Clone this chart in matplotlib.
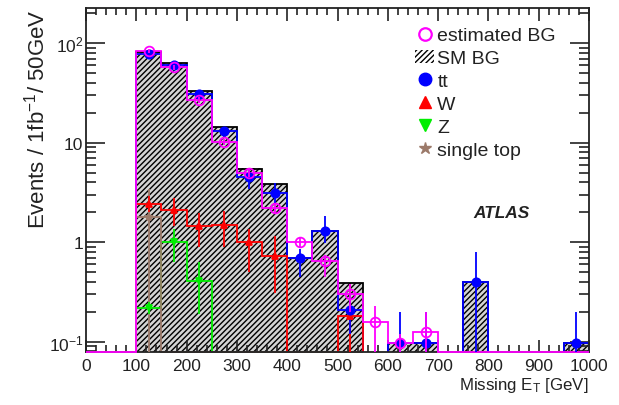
import numpy as np
import matplotlib
matplotlib.use("Agg")
import matplotlib.pyplot as plt
from matplotlib.lines import Line2D
from matplotlib.patches import Patch
from matplotlib.ticker import MultipleLocator, LogLocator, FixedLocator, FixedFormatter, NullFormatter

plt.rcParams['font.family'] = ['Liberation Sans', 'DejaVu Sans']
plt.rcParams['mathtext.default'] = 'regular'
plt.rcParams['hatch.linewidth'] = 1.0

# 50 GeV bins from 0 to 1000
edges = np.arange(0, 1050, 50)
centers = edges[:-1] + 25

# per-bin contents (20 bins)
tt = np.array([0, 0, 78, 60, 31, 13, 4.5, 3.1, 0.7, 1.3, 0.21, 0, 0.097, 0.097, 0, 0.40, 0, 0, 0, 0.097])
w = np.array([0, 0, 2.4, 2.1, 1.46, 1.5, 1.0, 0.73, 0, 0, 0.18, 0, 0, 0, 0, 0, 0, 0, 0, 0])
z = np.array([0, 0, 0.22, 1.0, 0.41, 0, 0, 0, 0, 0, 0, 0, 0, 0, 0, 0, 0, 0, 0, 0])
st = np.array([0, 0, 1.78, 0, 0, 0, 0, 0, 0, 0, 0, 0, 0, 0, 0, 0, 0, 0, 0, 0])
est = np.array([0, 0, 84, 57.5, 27, 10.2, 5.0, 2.2, 1.0, 0.64, 0.30, 0.156, 0.097, 0.124, 0, 0, 0, 0, 0, 0])
sm_bg = tt + w + z + st

# error bands (lower / upper bound) of the points
tt_lo = np.array([0, 0, 73, 56, 28.5, 11.5, 3.4, 2.4, 0.45, 0.97, 0.12, 0, 0, 0, 0, 0, 0, 0, 0, 0])
tt_hi = np.array([0, 0, 83, 64, 33.5, 14.5, 5.5, 3.9, 0.85, 1.83, 0.30, 0, 0.2, 0.2, 0, 0.8, 0, 0, 0, 0.2])
w_lo = np.array([0, 0, 2.0, 1.46, 0.9, 0.9, 0.5, 0.31, 0, 0, 0, 0, 0, 0, 0, 0, 0, 0, 0, 0])
w_hi = np.array([0, 0, 2.9, 2.8, 1.95, 2.05, 1.35, 1.16, 0, 0, 0.38, 0, 0, 0, 0, 0, 0, 0, 0, 0])
z_lo = np.array([0, 0, 0.19, 0.63, 0.19, 0, 0, 0, 0, 0, 0, 0, 0, 0, 0, 0, 0, 0, 0, 0])
z_hi = np.array([0, 0, 0.25, 1.35, 0.63, 0, 0, 0, 0, 0, 0, 0, 0, 0, 0, 0, 0, 0, 0, 0])
st_lo = np.array([0, 0, 0, 0, 0, 0, 0, 0, 0, 0, 0, 0, 0, 0, 0, 0, 0, 0, 0, 0])
st_hi = np.array([0, 0, 3.4, 0, 0, 0, 0, 0, 0, 0, 0, 0, 0, 0, 0, 0, 0, 0, 0, 0])
est_lo = np.array([0, 0, 80, 54, 25, 9.4, 4.5, 1.95, 0.9, 0.45, 0.2, 0, 0, 0, 0, 0, 0, 0, 0, 0])
est_hi = np.array([0, 0, 88, 61, 29, 11, 5.6, 2.5, 1.1, 0.75, 0.38, 0.23, 0.12, 0.2, 0, 0, 0, 0, 0, 0])

YMIN, YMAX = 0.0787, 226
TINY = 1e-4

magenta = '#ff00ff'
blue = '#0000ff'
red = '#ff0000'
green = '#00ee00'
brown = '#9c7a6a'
ink = '#222222'

fig = plt.figure(figsize=(6.19, 4.06), dpi=100)
ax = fig.add_axes([0.139, 0.1305, 0.8125, 0.8475])
ax.set_yscale('log')
ax.set_xlim(0, 1000)
ax.set_ylim(YMIN, YMAX)

# SM background, hatched
m = sm_bg > 0
ax.bar(centers[m], sm_bg[m], width=50, bottom=TINY, facecolor='#d4d4d4',
       edgecolor='black', hatch='//////', linewidth=0, zorder=1)
ax.stairs(np.where(sm_bg > 0, sm_bg, TINY), edges, baseline=TINY, color='black', lw=1.3, zorder=1.5)

# component histograms
ax.stairs(np.where(tt > 0, tt, TINY), edges, baseline=TINY, color=blue, lw=1.3, zorder=1.6)
ax.stairs(np.where(w[2:11] > 0, w[2:11], TINY), edges[2:12], baseline=TINY, color=red, lw=1.3, zorder=1.7)
ax.stairs(z[2:5], edges[2:6], baseline=TINY, color=green, lw=1.3, zorder=1.8)
ax.stairs(np.where(st[2:11] > 0, st[2:11], YMIN), edges[2:12], baseline=YMIN, color=brown,
          lw=1.3, zorder=1.9, clip_on=False)
ax.stairs(np.where(est > 0, est, YMIN), edges, baseline=YMIN, color=magenta, lw=1.3,
          zorder=3, clip_on=False)


def points(vals, lo, hi, color, marker, ms, face=None, zo=4):
    k = vals > 0
    y = vals[k]
    dn = y - np.maximum(lo[k], TINY)
    up = hi[k] - y
    ax.errorbar(centers[k], y, yerr=[dn, up], fmt=marker, color=color, ms=ms,
                mfc=face if face else color, mec=color, mew=1.3, elinewidth=1.3,
                capsize=0, zorder=zo)


points(st, st_lo, st_hi, brown, '*', 6)
points(z, z_lo, z_hi, green, 'v', 5)
points(w, w_lo, w_hi, red, '^', 5)
points(tt, tt_lo, tt_hi, blue, 'o', 6)
points(est, est_lo, est_hi, magenta, 'o', 7, face='none', zo=5)

# axes and ticks
ax.xaxis.set_major_locator(MultipleLocator(100))
ax.xaxis.set_minor_locator(MultipleLocator(20))
ax.yaxis.set_major_locator(FixedLocator([0.1, 1, 10, 100]))
ax.yaxis.set_major_formatter(FixedFormatter(['$10^{-1}$', '1', '10', '$10^{2}$']))
ax.yaxis.set_minor_locator(LogLocator(base=10, subs=np.arange(2, 10)))
ax.yaxis.set_minor_formatter(NullFormatter())
ax.tick_params(axis='both', which='both', direction='in', top=True, right=True,
               labelsize=12.5, colors=ink, width=1.2)
ax.tick_params(axis='x', which='major', length=9, pad=4)
ax.tick_params(axis='x', which='minor', length=5)
ax.tick_params(axis='y', which='major', length=14, pad=2)
ax.tick_params(axis='y', which='minor', length=7)
for s in ax.spines.values():
    s.set_linewidth(1.3)
    s.set_color(ink)

ax.set_xlabel('Missing E$_{T}$ [GeV]', loc='right', fontsize=12.2, color=ink, labelpad=2)
ax.set_ylabel('Events / 1fb$^{-1}$/ 50GeV', loc='top', fontsize=16, color=ink, labelpad=-1)

ax.text(0.827, 0.405, 'ATLAS', transform=ax.transAxes, fontsize=12.4, fontweight='bold',
        fontstyle='italic', ha='center', va='center', color=ink)

handles = [
    Line2D([], [], ls='none', marker='o', ms=9, mfc='none', mec=magenta, mew=1.6),
    Patch(facecolor='white', edgecolor='black', hatch='//////', linewidth=0),
    Line2D([], [], ls='none', marker='o', ms=9, color=blue),
    Line2D([], [], ls='none', marker='^', ms=9, color=red),
    Line2D([], [], ls='none', marker='v', ms=9, color=green),
    Line2D([], [], ls='none', marker='*', ms=9, color=brown),
]
labels = ['estimated BG', 'SM BG', 'tt', 'W', 'Z', 'single top']
leg = ax.legend(handles, labels, loc='upper left', bbox_to_anchor=(0.654, 0.945), frameon=False,
                fontsize=14, handlelength=1.0, handletextpad=0.15, labelspacing=0.27,
                borderaxespad=0, borderpad=0)
for t in leg.get_texts():
    t.set_color(ink)

fig.savefig('out.png', dpi=100)
